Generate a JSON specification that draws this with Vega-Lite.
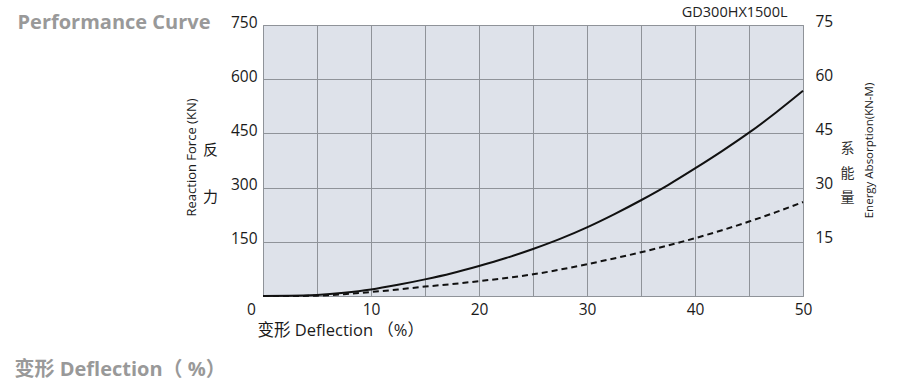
{
  "$schema": "https://vega.github.io/schema/vega-lite/v6.json",
  "width": 540,
  "height": 271,
  "autosize": "none",
  "padding": {"left": 263, "top": 25, "right": 97, "bottom": 96},
  "background": "white",
  "config": {
    "view": {"fill": "#dee2ea", "stroke": "#8f9399", "strokeWidth": 1},
    "axis": {
      "labelFont": "Open Sans, Noto Sans CJK SC",
      "titleFont": "Open Sans, Noto Sans CJK SC",
      "labelColor": "#1a1a1a",
      "titleColor": "#1a1a1a",
      "domain": false,
      "ticks": false,
      "grid": false,
      "titleFontWeight": "normal"
    }
  },
  "datasets": {
    "force": [
      {"deflection": 0, "force": 0},
      {"deflection": 2.5, "force": 0.5},
      {"deflection": 5, "force": 3},
      {"deflection": 7.5, "force": 9},
      {"deflection": 10, "force": 18},
      {"deflection": 12.5, "force": 31},
      {"deflection": 15, "force": 46},
      {"deflection": 17.5, "force": 63},
      {"deflection": 20, "force": 83},
      {"deflection": 22.5, "force": 105},
      {"deflection": 25, "force": 130},
      {"deflection": 27.5, "force": 158},
      {"deflection": 30, "force": 190},
      {"deflection": 32.5, "force": 226},
      {"deflection": 35, "force": 265},
      {"deflection": 37.5, "force": 307},
      {"deflection": 40, "force": 353},
      {"deflection": 42.5, "force": 401},
      {"deflection": 45, "force": 452},
      {"deflection": 47.5, "force": 508},
      {"deflection": 50, "force": 568}
    ],
    "energy": [
      {"deflection": 0, "energy": 0},
      {"deflection": 2.5, "energy": 0},
      {"deflection": 5, "energy": 0.1},
      {"deflection": 7.5, "energy": 0.5},
      {"deflection": 10, "energy": 1.1},
      {"deflection": 12.5, "energy": 1.8},
      {"deflection": 15, "energy": 2.6},
      {"deflection": 17.5, "energy": 3.3},
      {"deflection": 20, "energy": 4.1},
      {"deflection": 22.5, "energy": 5.0},
      {"deflection": 25, "energy": 6.0},
      {"deflection": 27.5, "energy": 7.3},
      {"deflection": 30, "energy": 8.8},
      {"deflection": 32.5, "energy": 10.4},
      {"deflection": 35, "energy": 12.1},
      {"deflection": 37.5, "energy": 14.0},
      {"deflection": 40, "energy": 16.0},
      {"deflection": 42.5, "energy": 18.2},
      {"deflection": 45, "energy": 20.6},
      {"deflection": 47.5, "energy": 23.2},
      {"deflection": 50, "energy": 26.0}
    ]
  },
  "layer": [
    {
      "data": {"name": "force"},
      "mark": {"type": "line", "color": "#111111", "strokeWidth": 2, "interpolate": "monotone"},
      "encoding": {
        "x": {
          "field": "deflection", "type": "quantitative",
          "scale": {"domain": [0, 50], "nice": false},
          "axis": {
            "orient": "bottom",
            "values": [0, 5, 10, 15, 20, 25, 30, 35, 40, 45, 50],
            "grid": true, "gridColor": "#8f9399", "gridWidth": 1,
            "labelFlush": false,
            "labelExpr": "datum.value % 10 == 0 ? datum.label : ''",
            "labelFontSize": 15.5, "labelPadding": 6,
            "labelOffset": {"condition": {"test": "datum.value == 0", "value": -12}, "value": 0},
            "title": "变形 Deflection （%）",
            "titleFontSize": 16.5,
            "titleX": -6, "titleY": 39,
            "titleAlign": "left", "titleBaseline": "alphabetic"
          }
        },
        "y": {
          "field": "force", "type": "quantitative",
          "scale": {"domain": [0, 750], "nice": false},
          "axis": {
            "orient": "left",
            "values": [0, 150, 300, 450, 600, 750],
            "grid": true, "gridColor": "#8f9399", "gridWidth": 1,
            "labelExpr": "datum.value == 0 ? '' : datum.label",
            "labelFontSize": 15.5, "labelPadding": 6, "labelOffset": -3,
            "title": ["反", "力"],
            "titleAngle": 0, "titleFontSize": 15, "titleLineHeight": 47,
            "titleX": -53, "titleY": 129,
            "titleAlign": "center", "titleBaseline": "alphabetic"
          }
        }
      }
    },
    {
      "data": {"name": "energy"},
      "mark": {"type": "line", "color": "#111111", "strokeWidth": 2, "strokeDash": [6, 4], "interpolate": "monotone"},
      "encoding": {
        "x": {
          "field": "deflection", "type": "quantitative",
          "scale": {"domain": [0, 50], "nice": false},
          "axis": {
            "orient": "top", "labels": false,
            "title": "GD300HX1500L",
            "titleFontSize": 14.5, "titleColor": "#222222",
            "titleX": 524, "titleY": -9,
            "titleAlign": "right", "titleBaseline": "alphabetic"
          }
        },
        "y": {
          "field": "energy", "type": "quantitative",
          "scale": {"domain": [0, 75], "nice": false},
          "axis": {
            "orient": "right",
            "values": [15, 30, 45, 60, 75],
            "labelFontSize": 15.5, "labelPadding": 12, "labelOffset": -4,
            "title": ["系", "能", "量"],
            "titleAngle": 0, "titleFontSize": 14, "titleLineHeight": 24.5,
            "titleColor": "#333333",
            "titleX": 44, "titleY": 127.5,
            "titleAlign": "center", "titleBaseline": "alphabetic"
          }
        }
      }
    },
    {
      "data": {"name": "force"},
      "mark": {"type": "line", "opacity": 0},
      "encoding": {
        "x": {
          "field": "deflection", "type": "quantitative",
          "scale": {"domain": [0, 50], "nice": false},
          "axis": {
            "orient": "top", "labels": false,
            "title": "Performance Curve",
            "titleFontSize": 20, "titleFontWeight": "bold", "titleColor": "#999999",
            "titleX": -246, "titleY": 3,
            "titleAlign": "left", "titleBaseline": "alphabetic"
          }
        },
        "y": {
          "field": "force", "type": "quantitative",
          "scale": {"domain": [0, 750], "nice": false},
          "axis": {
            "orient": "left", "labels": false,
            "title": "Reaction Force (KN)",
            "titleAngle": -90, "titleFontSize": 13,
            "titleX": -68, "titleY": 132,
            "titleAlign": "center", "titleBaseline": "alphabetic"
          }
        }
      }
    },
    {
      "data": {"name": "energy"},
      "mark": {"type": "line", "opacity": 0},
      "encoding": {
        "x": {
          "field": "deflection", "type": "quantitative",
          "scale": {"domain": [0, 50], "nice": false},
          "axis": {
            "orient": "bottom", "labels": false,
            "title": "变形 Deflection（ %）",
            "titleFontSize": 20, "titleFontWeight": "bold", "titleColor": "#999999",
            "titleX": -249, "titleY": 79,
            "titleAlign": "left", "titleBaseline": "alphabetic"
          }
        },
        "y": {
          "field": "energy", "type": "quantitative",
          "scale": {"domain": [0, 75], "nice": false},
          "axis": {
            "orient": "right", "labels": false,
            "title": "Energy Absorption(KN-M)",
            "titleAngle": -90, "titleFontSize": 11.5,
            "titleX": 69, "titleY": 125,
            "titleAlign": "center", "titleBaseline": "alphabetic"
          }
        }
      }
    }
  ],
  "resolve": {
    "scale": {"x": "independent", "y": "independent"},
    "axis": {"x": "independent", "y": "independent"}
  }
}
